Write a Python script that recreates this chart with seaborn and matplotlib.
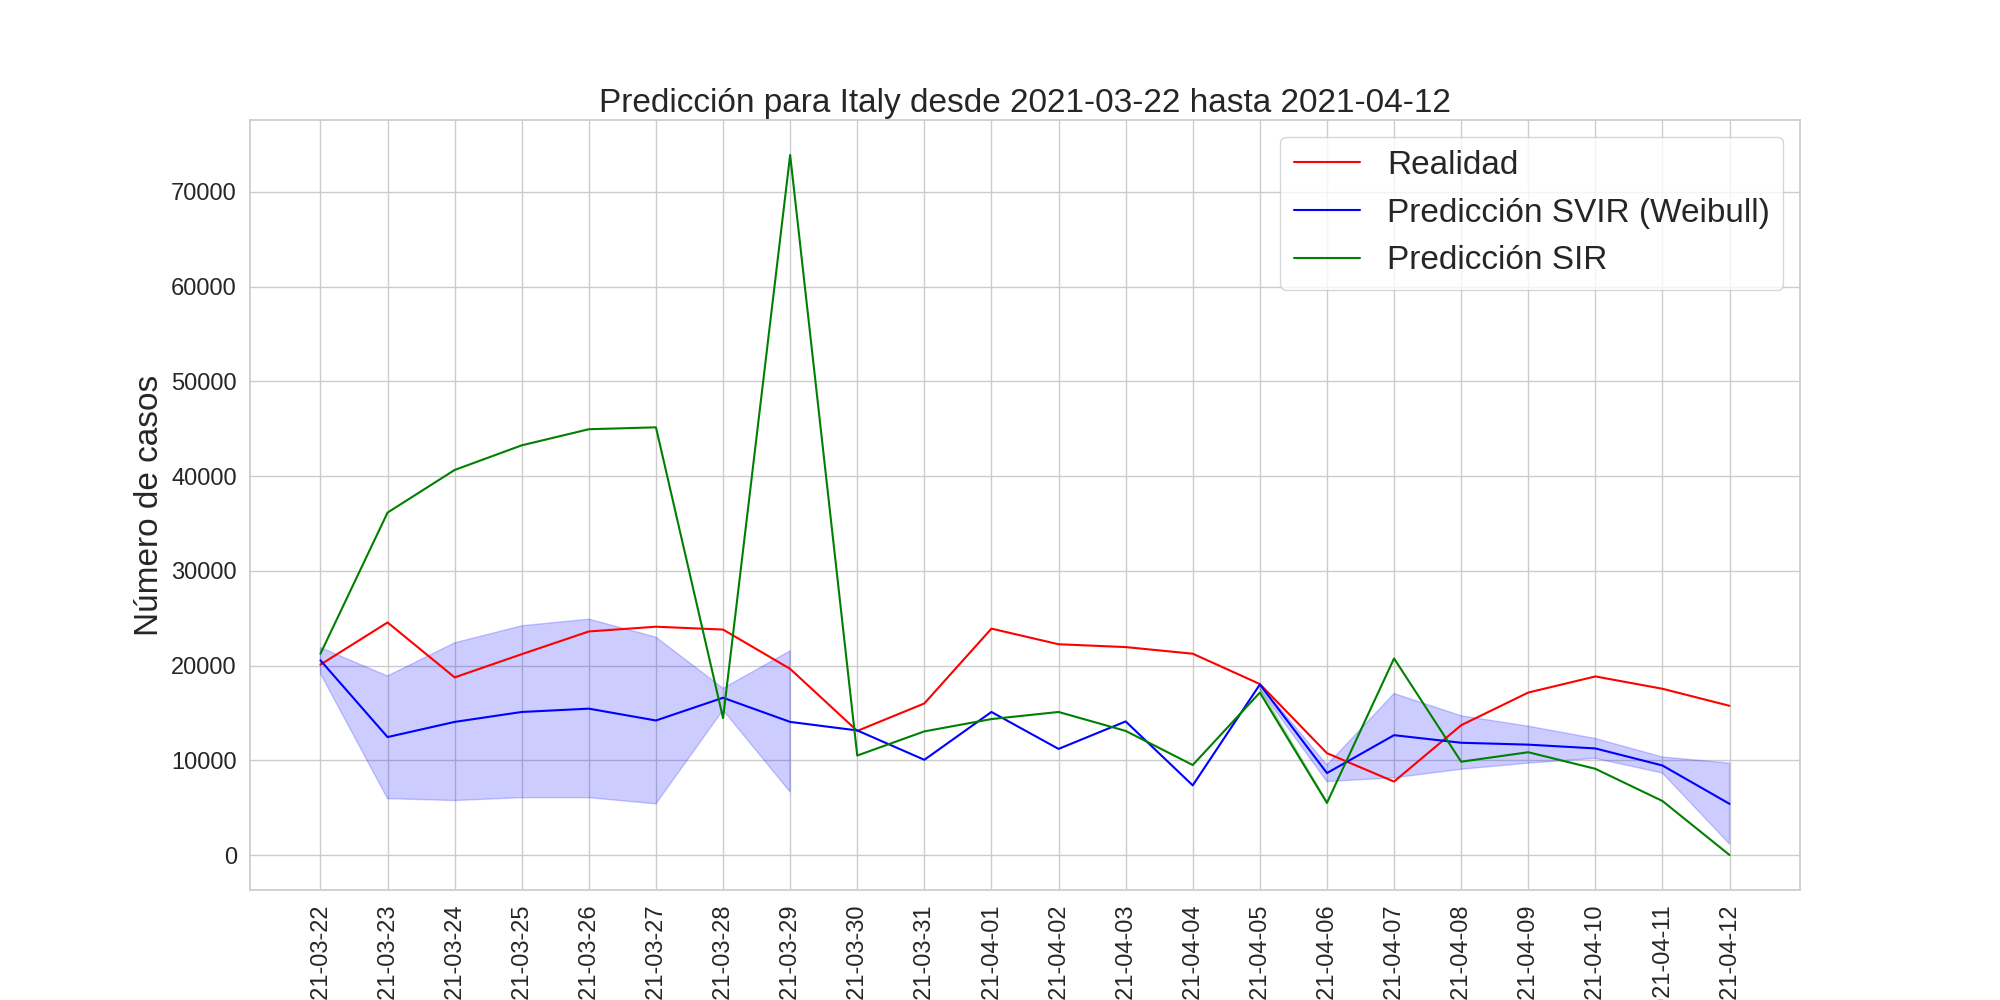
import numpy as np
import pandas as pd
import matplotlib
matplotlib.use("Agg")
import matplotlib.pyplot as plt
import seaborn as sns

# datos
fechas = pd.date_range("2021-03-22", "2021-04-12", freq="D")

realidad = [20100, 24550, 18750, 21200, 23600, 24100, 23800, 19650, 13100, 16000,
            23900, 22250, 21950, 21250, 18050, 10750, 7750, 13700, 17150, 18850,
            17550, 15750]

svir = [20550, 12450, 14050, 15100, 15450, 14200, 16600, 14050, 13150, 10050,
        15100, 11200, 14100, 7350, 18000, 8650, 12650, 11850, 11650, 11250,
        9450, 5400]

svir_inf = [19150, 5950, 5750, 6050, 6050, 5400, 15300, 6650, np.nan, np.nan,
            np.nan, np.nan, np.nan, np.nan, 17500, 7750, 8150, 9050, 9700, 10200,
            8650, 1150]
svir_sup = [21900, 18900, 22400, 24200, 24900, 23000, 17600, 21550, np.nan, np.nan,
            np.nan, np.nan, np.nan, np.nan, 18050, 9500, 17050, 14700, 13600, 12300,
            10350, 9700]

sir = [21250, 36150, 40650, 43250, 44950, 45150, 14450, 73900, 10500, 13050,
       14350, 15100, 13100, 9500, 17150, 5500, 20750, 9850, 10850, 9100,
       5700, 0]

sir_inf = [np.nan] * 14 + [17150, 5500] + [np.nan] * 6
sir_sup = [np.nan] * 14 + [17600, 5650] + [np.nan] * 6

pais = "Italy"

sns.set_theme(style="whitegrid")
plt.rcParams["font.family"] = ["Liberation Sans", "DejaVu Sans"]

fig, ax = plt.subplots(figsize=(20, 10), dpi=100)

sns.lineplot(x=fechas, y=realidad, color="red", label="Realidad", ax=ax)
sns.lineplot(x=fechas, y=svir, color="blue", label="Predicción SVIR (Weibull)", ax=ax)
ax.fill_between(fechas, svir_inf, svir_sup, color="blue", alpha=0.2)
sns.lineplot(x=fechas, y=sir, color="green", label="Predicción SIR", ax=ax)
ax.fill_between(fechas, sir_inf, sir_sup, color="green", alpha=0.2)

ax.set_xticks(fechas)
ax.set_xticklabels([f.strftime("%Y-%m-%d") for f in fechas], rotation=90, fontsize=17)
ax.tick_params(axis="y", labelsize=17)
ax.set_ylabel("Número de casos", fontsize=24)
ax.set_title(f"Predicción para {pais} desde {fechas[0]:%Y-%m-%d} hasta {fechas[-1]:%Y-%m-%d}",
             fontsize=24)
ax.legend(fontsize=24, loc="upper right")

fig.savefig("out.png")
